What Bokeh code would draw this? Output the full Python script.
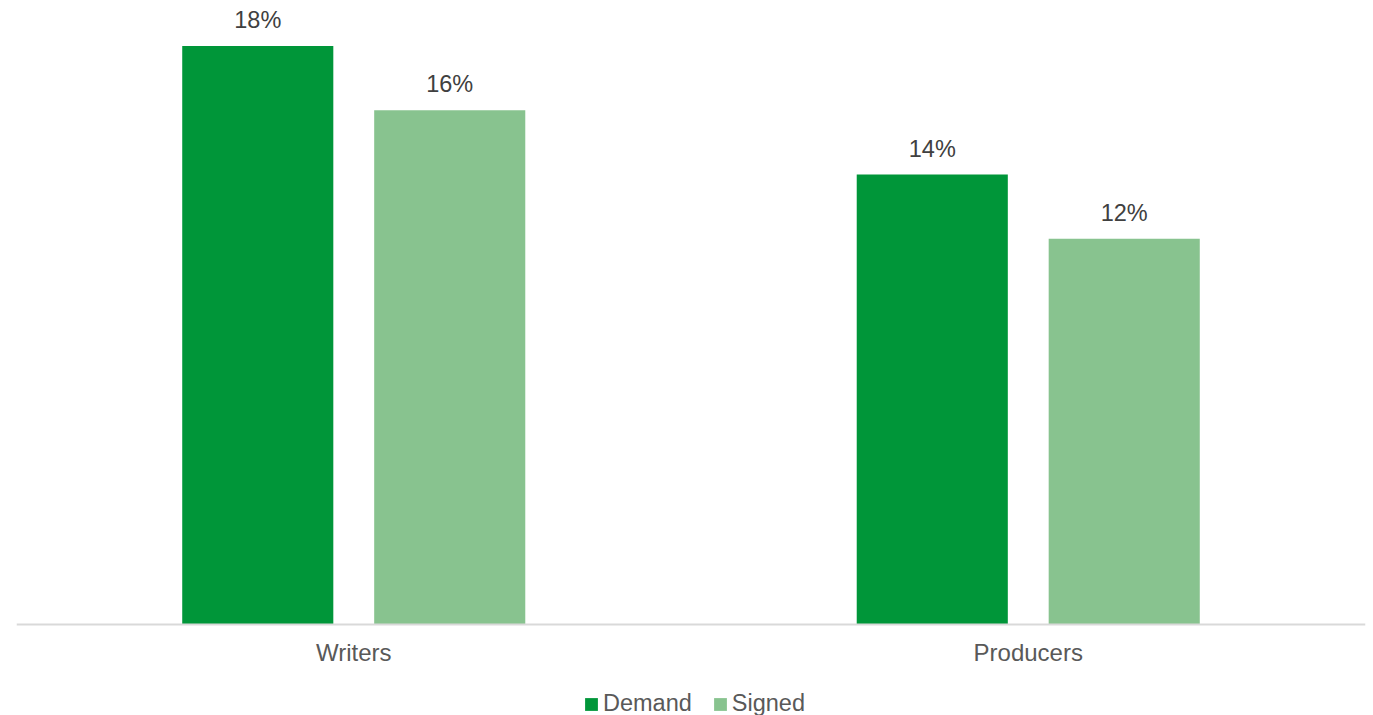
from bokeh.plotting import figure
from bokeh.models import ColumnDataSource, Range1d, Legend, LegendItem, FixedTicker
from bokeh.core.properties import value
from bokeh.embed import file_html
from bokeh.resources import INLINE

categories = ["Writers", "Producers"]
demand = [18, 14]
signed = [16, 12]
demand_labels = ["18%", "14%"]
signed_labels = ["16%", "12%"]

FONT = "Liberation Sans"
DEMAND_COLOR = "#009639"
SIGNED_COLOR = "#88C38F"

# category slots: each category occupies one unit on x
pos = [i + 0.5 for i in range(len(categories))]
off = 0.1423
w = 0.224

src = ColumnDataSource(dict(x_d=[x - off for x in pos], x_s=[x + off for x in pos],
                            demand=demand, signed=signed,
                            dl=demand_labels, sl=signed_labels))

p = figure(x_range=Range1d(0, 2), y_range=Range1d(-2.831, 19.415),
           width=1373, height=715, output_backend="svg", toolbar_location=None,
           y_axis_location=None,
           min_border_left=16, min_border_right=8, min_border_top=0, min_border_bottom=0)
p.outline_line_color = None
p.xgrid.grid_line_color = None
p.ygrid.grid_line_color = None

r1 = p.vbar(x="x_d", top="demand", width=w, source=src,
            fill_color=DEMAND_COLOR, line_color=None)
r2 = p.vbar(x="x_s", top="signed", width=w, source=src,
            fill_color=SIGNED_COLOR, line_color=None)

p.text(x="x_d", y="demand", text="dl", source=src,
       text_align="center", text_baseline="middle", y_offset=-26,
       text_font=value(FONT), text_font_size="23.5px", text_color="#404040")
p.text(x="x_s", y="signed", text="sl", source=src,
       text_align="center", text_baseline="middle", y_offset=-26,
       text_font=value(FONT), text_font_size="23.5px", text_color="#404040")

ax = p.xaxis[0]
ax.fixed_location = 0
ax.ticker = FixedTicker(ticks=pos)
ax.major_label_overrides = {pos[i]: categories[i] for i in range(len(categories))}
ax.axis_line_color = "#D9D9D9"
ax.axis_line_width = 2
ax.major_tick_line_color = None
ax.minor_tick_line_color = None
ax.major_label_standoff = 8
ax.major_label_text_font = FONT
ax.major_label_text_font_size = "24px"
ax.major_label_text_color = "#595959"

legend = Legend(items=[LegendItem(label="Demand", renderers=[r1]),
                       LegendItem(label="Signed", renderers=[r2])],
                orientation="horizontal", location=(567, -2),
                padding=0, margin=0, spacing=20,
                glyph_width=16, glyph_height=16, label_standoff=4,
                label_text_font=FONT, label_text_font_size="23.5px",
                label_text_color="#595959", border_line_color=None,
                background_fill_alpha=0)
p.add_layout(legend, "center")

open("out.html", "w").write(file_html(p, INLINE))
